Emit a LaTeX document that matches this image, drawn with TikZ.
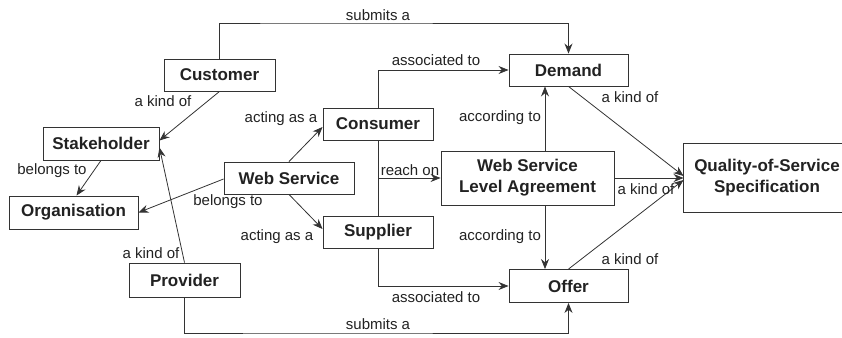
\documentclass[tikz,border=0pt]{standalone}
\usepackage{fontspec}
\setmainfont{Liberation Sans}
\usetikzlibrary{arrows.meta}
\definecolor{ink}{HTML}{222222}
\definecolor{wire}{HTML}{333333}
\tikzset{
  box/.style={draw=wire, line width=0.9pt, fill=white, text=ink, inner sep=0pt,
    align=center, font=\fontsize{17}{21}\selectfont\bfseries},
  lbl/.style={text=ink, inner sep=0pt, font=\fontsize{15}{18}\selectfont},
  link/.style={draw=wire, line width=0.8pt},
  arr/.style={link, -{Stealth[length=10pt,width=8pt]}}
}
\begin{document}
\begin{tikzpicture}[x=1pt,y=-1pt]
\useasboundingbox (0,0) rectangle (842,337);

% entities
\node[box, minimum width=111pt, minimum height=32pt] (cust) at (219.5,75) {Customer};
\node[box, minimum width=116pt, minimum height=33pt] (stake) at (101,143.5) {Stakeholder};
\node[box, minimum width=129pt, minimum height=33pt] (org) at (73.5,212.5) {Organisation};
\node[box, minimum width=111pt, minimum height=34pt] (prov) at (184.5,280) {Provider};
\node[box, minimum width=130pt, minimum height=32pt] (ws) at (289,178) {Web Service};
\node[box, minimum width=110pt, minimum height=32pt] (cons) at (378,124) {Consumer};
\node[box, minimum width=110pt, minimum height=32pt] (sup) at (378,232) {Supplier};
\node[box, minimum width=119pt, minimum height=32pt] (dem) at (568.5,70) {Demand};
\node[box, minimum width=173pt, minimum height=54pt] (wsla) at (527.5,178) {Web Service\\Level Agreement};
\node[box, draw=none, minimum width=166pt, minimum height=68pt] (qos) at (767,178) {Quality-of-Service\\Specification};
% the specification box runs on past the right edge of the page
\draw[link, line width=0.9pt] (qos.south west) rectangle ([xshift=30pt]qos.north east);
\node[box, minimum width=119pt, minimum height=33pt] (off) at (568.5,286) {Offer};

% routing helpers
\coordinate (toprail) at (300,23);
\coordinate (botrail) at (300,333);
\coordinate (acc) at (545,0);

% connectors
\draw[arr] (cust.north) |- (toprail) -| (dem.north);
\draw[arr] (cust.south) -- ([yshift=3pt]stake.east);
\draw[arr] (prov.north) -- ([yshift=-4pt]stake.east);
\draw[arr] (stake.south) -- ([xshift=3pt]org.north);
\draw[arr] ([yshift=-1pt]ws.west) -- (org.east);
\draw[arr] (ws.north) -- ([yshift=-3pt]cons.west);
\draw[arr] (ws.south) -- ([yshift=3pt]sup.west);
\draw[arr] (cons.north) |- (dem.west);
\draw[link] (cons.south) -- (sup.north);
\draw[arr] (cons.south |- wsla.west) -- (wsla.west);
\draw[arr] (sup.south) |- (off.west);
\draw[arr] (prov.south) |- (botrail) -| (off.south);
\draw[arr] (wsla.north -| acc) -- (dem.south -| acc);
\draw[arr] (wsla.south -| acc) -- (off.north -| acc);
\draw[arr] (dem.south) -- ([yshift=2pt]qos.west);
\draw[arr] (wsla.east) -- (qos.west);
\draw[arr] (off.north) -- ([yshift=-2pt]qos.west);

% relation labels
\node[lbl] (l1) at (378,15) {submits a};
\node[lbl] (l2) at (163,101) {a kind of};
\node[lbl] (l3) at (281,119) {acting as a};
\node[lbl] (l4) at (436,60) {associated to};
\node[lbl] (l5) at (630,97) {a kind of};
\node[lbl] (l6) at (500,118) {according to};
\node[lbl] (l7) at (52,171) {belongs to};
\node[lbl] (l8) at (410,170) {reach on};
\node[lbl] (l9) at (228,202) {belongs to};
\node[lbl] (l10) at (277,237) {acting as a};
\node[lbl] (l11) at (151,253) {a kind of};
\node[lbl] (l12) at (646,189) {a kind of};
\node[lbl] (l13) at (500,237) {according to};
\node[lbl] (l14) at (630,259) {a kind of};
\node[lbl] (l15) at (436,297) {associated to};
\node[lbl] (l16) at (378,324) {submits a};
\end{tikzpicture}
\end{document}
